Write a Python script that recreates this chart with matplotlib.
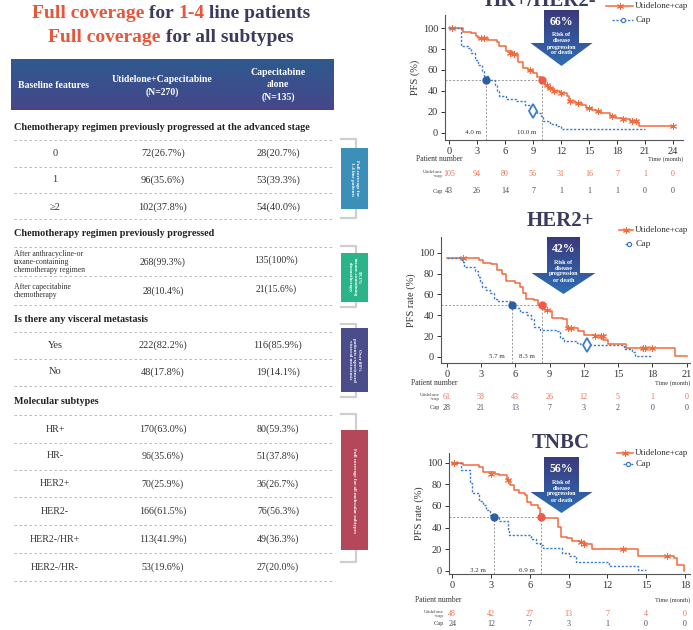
import numpy as np
import matplotlib
matplotlib.use("Agg")
import matplotlib.pyplot as plt
from matplotlib.patches import Polygon, Rectangle
from matplotlib.lines import Line2D
from matplotlib.transforms import blended_transform_factory

plt.rcParams['font.family'] = ['Liberation Serif', 'DejaVu Serif']

ORANGE = '#f26a3c'
BLUE = '#3f7cc6'
NAVY = '#3b3b5e'
RED_T = '#e8553a'

# ---------------- table data ----------------
sec_titles = ["Chemotherapy regimen previously progressed at the advanced stage",
              "Chemotherapy regimen previously progressed",
              "Is there any visceral metastasis",
              "Molecular subtypes"]
line_lab = ["0", "1", "\u22652"]
line_uti = ["72(26.7%)", "96(35.6%)", "102(37.8%)"]
line_cap = ["28(20.7%)", "53(39.3%)", "54(40.0%)"]
prior_lab = ["After anthracycline-or\ntaxane-containing\nchemotherapy regimen",
             "After capecitabine\nchemotherapy"]
prior_uti = ["268(99.3%)", "28(10.4%)"]
prior_cap = ["135(100%)", "21(15.6%)"]
visc_lab = ["Yes", "No"]
visc_uti = ["222(82.2%)", "48(17.8%)"]
visc_cap = ["116(85.9%)", "19(14.1%)"]
sub_lab = ["HR+", "HR-", "HER2+", "HER2-", "HER2-/HR+", "HER2-/HR-"]
sub_uti = ["170(63.0%)", "96(35.6%)", "70(25.9%)", "166(61.5%)", "113(41.9%)", "53(19.6%)"]
sub_cap = ["80(59.3%)", "51(37.8%)", "36(26.7%)", "76(56.3%)", "49(36.3%)", "27(20.0%)"]

# ---------------- KM data ----------------
# HR+/HER2-
hr_uti_t = [0, 1.5, 2.4, 2.9, 3.1, 4.2, 5.1, 5.4, 6.1, 6.7, 7.0, 7.4, 7.9, 8.5, 9.0, 9.4, 9.9, 10.3,
            10.6, 11.1, 11.9, 12.6, 12.9, 13.5, 14.2, 14.7, 15.3, 15.8, 16.3, 17.2, 17.9, 18.5, 19.4,
            20.3, 20.4, 24.0]
hr_uti_s = [100, 96, 95, 92, 90.5, 89, 87, 83, 78, 76, 75, 68, 62, 60, 57, 53, 51, 46,
            43, 40, 38, 35, 30, 29, 27, 24, 22, 21, 19.5, 16, 14, 13, 11,
            9.5, 7, 7]
hr_cap_t = [0, 1.3, 2.0, 2.4, 2.75, 3.1, 3.5, 3.8, 4.2, 4.9, 5.1, 5.4, 6.1, 7.2, 8.1, 8.8, 9.4,
            9.9, 10.1, 10.8, 11.5, 12.0, 21.0]
hr_cap_s = [100, 82.5, 81, 76, 70, 65, 59, 54, 50, 46, 40, 35, 32, 30, 27, 22, 19,
            16, 11, 9, 6.5, 4, 4]
hr_cens_t = [0.3, 3.4, 3.8, 6.5, 7.0, 8.7, 10.5, 10.8, 11.3, 12.0, 13.0, 13.8, 15.0, 16.0, 17.5,
             18.6, 19.6, 20.0, 24.0]
hr_cens_s = [100, 90.5, 90.5, 76, 75, 60, 46, 43, 40, 38, 30, 29, 24, 21, 16, 13, 11, 11, 7]
hr_med = (4.0, 10.0)
hr_diamond = (9.0, 21)
hr_risk_t = [0, 3, 6, 9, 12, 15, 18, 21, 24]
hr_risk_uti = [105, 94, 80, 56, 31, 16, 7, 1, 0]
hr_risk_cap = [43, 26, 14, 7, 1, 1, 1, 0, 0]

# HER2+
her_uti_t = [0, 2.8, 3.2, 3.9, 4.4, 4.8, 5.2, 6.0, 6.4, 6.7, 6.9, 7.6, 8.0, 8.5, 8.9, 9.2, 10.2,
             10.5, 11.5, 12.0, 13.1, 13.7, 14.1, 15.7, 20.0, 21.0]
her_uti_s = [95, 93, 90, 89, 83, 80, 73, 71, 67.5, 61, 56, 55, 50, 45, 44, 37, 36,
             28, 24.5, 21, 20, 16.5, 12, 9, 1, 1]
her_cap_t = [0, 1.0, 1.3, 1.5, 2.5, 2.7, 2.9, 3.1, 3.4, 3.8, 4.1, 4.4, 5.5, 5.7, 6.0, 6.4, 7.0,
             7.4, 7.6, 8.2, 9.6, 9.9, 10.3, 11.4, 11.7, 12.2, 15.5, 16.2, 16.5, 18.0]
her_cap_s = [95, 94.6, 90.8, 86.6, 82, 77, 72, 67.5, 64, 61, 56, 54, 51.6, 48.4, 47, 43, 40,
             36, 29, 26, 24.5, 18, 15, 13.4, 12, 11, 7.6, 4.5, 1.3, 1.3]
her_cens_t = [1.4, 8.4, 8.8, 10.6, 10.9, 13.0, 13.5, 13.7, 17.2, 17.4, 18.0]
her_cens_s = [95, 50, 45, 28, 28, 20, 20, 20, 9, 9, 9]
her_med = (5.7, 8.3)
her_diamond = (12.3, 11)
her_risk_t = [0, 3, 6, 9, 12, 15, 18, 21]
her_risk_uti = [61, 58, 43, 26, 12, 5, 1, 0]
her_risk_cap = [28, 21, 13, 7, 3, 2, 0, 0]

# TNBC
tn_uti_t = [0, 0.85, 2.1, 2.4, 3.3, 3.6, 4.2, 4.5, 4.8, 5.2, 5.6, 5.8, 6.1, 6.6, 6.8, 7.0, 8.2,
            8.4, 8.9, 9.3, 9.9, 10.3, 10.8, 14.4, 17.2, 17.4, 17.9]
tn_uti_s = [100, 98, 95.7, 91.7, 90, 88.6, 84, 79, 75, 72, 70, 64, 61, 57.7, 53, 48.5, 40.7,
            31.5, 30, 28, 27, 25, 19.8, 13.6, 11.4, 5, 0]
tn_cap_t = [0, 0.7, 1.4, 1.55, 2.1, 2.4, 2.6, 2.9, 3.3, 3.6, 4.3, 4.4, 6.1, 6.5, 6.8, 7.0, 8.5,
            9.0, 9.6, 12.1, 14.4, 15.0]
tn_cap_s = [100, 93, 81, 71.6, 65, 61, 56, 51.5, 49.4, 46.3, 39, 33, 29, 26, 23.8, 20.7, 16.7,
            13.6, 8.3, 4.3, 0.6, 0.6]
tn_cens_t = [0.1, 3.0, 4.3, 10.0, 10.2, 13.2, 16.6]
tn_cens_s = [100, 90, 84, 27, 25, 19.8, 13.6]
tn_med = (3.2, 6.9)
tn_risk_t = [0, 3, 6, 9, 12, 15, 18]
tn_risk_uti = [48, 42, 27, 13, 7, 4, 0]
tn_risk_cap = [24, 12, 7, 3, 1, 0, 0]

W, H = 693, 630
fig = plt.figure(figsize=(W / 100, H / 100), dpi=100)
fig.patch.set_facecolor('white')


def px_axes(l, t, r, b, **kw):
    return fig.add_axes([l / W, 1 - b / H, (r - l) / W, (b - t) / H], **kw)


ov = fig.add_axes([0, 0, 1, 1], zorder=5)
ov.set_xlim(0, W)
ov.set_ylim(H, 0)
ov.axis('off')
ov.patch.set_alpha(0)
renderer = fig.canvas.get_renderer()


def multi_text(cx, y, parts, size):
    objs = []
    for s, c in parts:
        objs.append(ov.text(0, y, s, color=c, fontsize=size, fontweight='bold', va='center', ha='left'))
    widths = [o.get_window_extent(renderer).width for o in objs]
    x = cx - sum(widths) / 2
    for o, w in zip(objs, widths):
        o.set_x(x)
        x += w


def gradient(x0, x1, y0, y1, c_top, c_bot, clip=None):
    a = np.array(matplotlib.colors.to_rgb(c_top))
    b = np.array(matplotlib.colors.to_rgb(c_bot))
    f = np.linspace(0, 1, 64)[:, None, None]
    img = a * (1 - f) + b * f
    im = ov.imshow(img, extent=(x0, x1, y1, y0), origin='upper', aspect='auto', zorder=2)
    if clip is not None:
        im.set_clip_path(clip)


# ---------------- title ----------------
multi_text(171, 14, [("Full coverage", RED_T), (" for ", NAVY), ("1-4", RED_T), (" line patients", NAVY)], 14)
multi_text(171, 38, [("Full coverage", RED_T), (" for all subtypes", NAVY)], 14)

# ---------------- table ----------------
gradient(11, 334, 59, 110, '#2e5a8e', '#46468a')
ov.text(54, 85, "Baseline features", color='white', fontsize=7, fontweight='bold', ha='center', va='center')
ov.text(162, 86, "Utidelone+Capecitabine\n(N=270)", color='white', fontsize=7, fontweight='bold',
        ha='center', va='center', linespacing=1.5)
ov.text(278, 85, "Capecitabine\nalone\n(N=135)", color='white', fontsize=7, fontweight='bold',
        ha='center', va='center', linespacing=1.5)

C1, C2, C3 = 55, 163, 278
FS = 7.5


def dash(y):
    ov.plot([14, 334], [y, y], color='#b0b0b0', lw=0.6, ls=(0, (3, 3)), zorder=3)


def section(y, s):
    ov.text(14, y, s, fontsize=7.3, fontweight='bold', color='#222222', va='center', ha='left')


section(127, sec_titles[0])
for y in [140, 167, 193, 219]:
    dash(y)
for y, a, b, c in zip([153, 180, 207], line_lab, line_uti, line_cap):
    ov.text(C1, y, a, fontsize=FS, ha='center', va='center', color='#333333')
    ov.text(C2, y, b, fontsize=FS, ha='center', va='center', color='#333333')
    ov.text(C3, y, c, fontsize=FS, ha='center', va='center', color='#333333')

section(234, sec_titles[1])
for y in [247, 276, 305]:
    dash(y)
for y, a, b, c in zip([262, 291], prior_lab, prior_uti, prior_cap):
    ov.text(14, y, a, fontsize=5.6, ha='left', va='center', color='#333333', linespacing=1.0)
    ov.text(C2, y, b, fontsize=FS - 0.5, ha='center', va='center', color='#333333')
    ov.text(C3 - 2, y - 2, c, fontsize=FS - 0.5, ha='center', va='center', color='#333333')

section(319, sec_titles[2])
for y in [332, 359, 386]:
    dash(y)
for y, a, b, c in zip([345, 372], visc_lab, visc_uti, visc_cap):
    ov.text(C1, y, a, fontsize=FS, ha='center', va='center', color='#333333')
    ov.text(C2, y, b, fontsize=FS, ha='center', va='center', color='#333333')
    ov.text(C3, y, c, fontsize=FS, ha='center', va='center', color='#333333')

section(401, sec_titles[3])
for y in [415, 443, 470, 497, 525, 553, 581]:
    dash(y)
for y, a, b, c in zip([429, 456, 484, 511, 539, 567], sub_lab, sub_uti, sub_cap):
    ov.text(C1, y, a, fontsize=FS - 0.3, ha='center', va='center', color='#333333')
    ov.text(C2, y, b, fontsize=FS - 0.3, ha='center', va='center', color='#333333')
    ov.text(C3, y, c, fontsize=FS - 0.3, ha='center', va='center', color='#333333')

# side labels
side = [(139, 218, 148, 209, '#3b8fb8', "Full coverage for\n1-4 line patients"),
        (246, 307, 253, 302, '#2bb48a', "99.3%\ntaxane-containing\nchemotherapy"),
        (324, 397, 328, 392, '#4a4d8a', "Over 80%\npatients experienced\nvisceral metastasis"),
        (414, 562, 430, 550, '#b5475a', "Full coverage for all molecular subtypes")]
for bt, bb, y0, y1, col, txt in side:
    ov.plot([341, 356, 356, 341], [bt, bt, bb, bb], color='#cfcfcf', lw=1.6, zorder=2)
    ov.add_patch(Rectangle((341, y0), 27, y1 - y0, facecolor=col, edgecolor='none', zorder=3))
    ov.text(354.5, (y0 + y1) / 2, txt, rotation=270, color='white', fontsize=3.6, fontweight='bold',
            ha='center', va='center', linespacing=1.1, zorder=4)


# ---------------- KM plots ----------------
def km(box, xlim, ylim, xt, ut, us, ct, cs, cens_t, cens_s, med, diamond, ylabel):
    ax = px_axes(*box)
    ax.step(ut, us, where='post', color=ORANGE, lw=1.1, zorder=3)
    ax.step(ct, cs, where='post', color=BLUE, lw=1.0, ls=(0, (1.6, 1.2)), zorder=3)
    ax.plot(cens_t, cens_s, ls='none', marker=(6, 2, 0), ms=5, mew=0.7, color=ORANGE, zorder=4)
    ax.plot([xlim[0], med[1]], [50, 50], color='#8a8a8a', lw=0.6, ls=(0, (2.5, 2)), zorder=2)
    for m in med:
        ax.plot([m, m], [ylim[0], 50], color='#8a8a8a', lw=0.6, ls=(0, (2.5, 2)), zorder=2)
    ax.plot(med[0], 50, 'o', color='#2e5da6', ms=5, zorder=5)
    ax.plot(med[1], 50, 'o', color='#ef5b4b', ms=5, zorder=5)
    if diamond is not None:
        ax.plot(*diamond, marker='d', ms=7, mfc='white', mec=BLUE, mew=1.3, zorder=5)
    ax.set_xlim(*xlim)
    ax.set_ylim(*ylim)
    ax.set_xticks(xt)
    ax.set_yticks(range(0, 101, 20))
    for s in ['top', 'right']:
        ax.spines[s].set_visible(False)
    for s in ['left', 'bottom']:
        ax.spines[s].set_color('#555555')
        ax.spines[s].set_linewidth(0.8)
    ax.tick_params(labelsize=7.5, length=3, width=0.7, colors='#333333', pad=2)
    ax.set_ylabel(ylabel, fontsize=7.5, color='#333333', labelpad=2)
    ax.patch.set_alpha(0)
    return ax


def risk(ax, y_lab, y_u, y_c, x_lab, x_row, t, ru, rc):
    tr = blended_transform_factory(ax.transData, ov.transData)
    ov.text(x_lab, y_lab, "Patient number", fontsize=5.5, ha='left', va='center', color='#333333')
    ov.text(ax.get_position().x1 * W, y_lab, "Time (month)", fontsize=4.6, ha='right', va='center',
            color='#333333')
    ov.text(x_row, y_u, "Utidelone\n+cap", fontsize=3.6, ha='right', va='center', color='#444444',
            linespacing=1.0)
    ov.text(x_row, y_c, "Cap", fontsize=4.6, ha='right', va='center', color='#444444')
    for ti, a, b in zip(t, ru, rc):
        ov.text(ti, y_u, str(a), transform=tr, fontsize=5.8, ha='center', va='center', color='#f07050')
        ov.text(ti, y_c, str(b), transform=tr, fontsize=5.8, ha='center', va='center', color='#4a4a6a')


def med_labels(ax, y, items):
    tr = blended_transform_factory(ax.transData, ov.transData)
    for x, s in items:
        ov.text(x, y, s, transform=tr, fontsize=5, ha='center', va='center', color='#333333')


def legend(y1, y2, x0, x1):
    xm = (x0 + x1) / 2
    ov.add_line(Line2D([x0, x1], [y1, y1], color=ORANGE, lw=1.1))
    ov.plot(xm, y1, marker=(6, 2, 0), ms=5, mew=0.7, color=ORANGE)
    ov.text(x1 + 1.5, y1, "Utidelone+cap", fontsize=6.5, va='center', ha='left', color='#333333')
    ov.add_line(Line2D([x0 + 6, x1], [y2, y2], color=BLUE, lw=1.0, ls=(0, (1.6, 1.2))))
    ov.plot(xm + 3, y2, 'o', ms=3, mfc='white', mec=BLUE, mew=0.9)
    ov.text(x1 + 3, y2, "Cap", fontsize=6.8, va='center', ha='left', color='#333333')


def arrow(cx, top, sb, tip, sh, hh, pct):
    pts = [(cx - sh, top), (cx + sh, top), (cx + sh, sb), (cx + hh, sb), (cx, tip), (cx - hh, sb),
           (cx - sh, sb)]
    poly = Polygon(pts, closed=True, facecolor='none', edgecolor='none', transform=ov.transData)
    ov.add_patch(poly)
    gradient(cx - hh, cx + hh, top, tip, '#3a3a7c', '#2f6db4', clip=poly)
    ov.text(cx, top + 12, pct, color='white', fontsize=8.5, fontweight='bold', ha='center', va='center',
            zorder=6)
    ov.text(cx, top + 34, "Risk of\ndisease\nprogression\nor death", color='white', fontsize=4.3,
            fontweight='bold', ha='center', va='center', linespacing=1.25, zorder=6)


# HR+/HER2-
ax1 = km((445, 15, 683, 140), (-0.43, 25.07), (-6.7, 112.4), hr_risk_t, hr_uti_t, hr_uti_s,
         hr_cap_t, hr_cap_s, hr_cens_t, hr_cens_s, hr_med, hr_diamond, "PFS (%)")
ov.text(540, 6, "HR+/HER2-", fontsize=15, fontweight='bold', color=NAVY, ha='center', va='baseline')
legend(6, 20, 606, 633)
arrow(561.5, 10, 43, 66, 17.5, 31, "66%")
med_labels(ax1, 133, [(2.6, "4.0 m"), (8.3, "10.0 m")])
risk(ax1, 159, 174, 191, 416, 443, hr_risk_t, hr_risk_uti, hr_risk_cap)

# HER2+
ax2 = km((441, 237, 690, 363), (-0.5, 21.3), (-5.8, 115), her_risk_t, her_uti_t, her_uti_s,
         her_cap_t, her_cap_s, her_cens_t, her_cens_s, her_med, her_diamond, "PFS rate (%)")
ov.text(560, 226, "HER2+", fontsize=15, fontweight='bold', color=NAVY, ha='center', va='baseline')
legend(230, 244, 619, 633)
arrow(563.5, 237, 273, 294, 16.5, 32, "42%")
med_labels(ax2, 357, [(4.4, "5.7 m"), (7.0, "8.3 m")])
risk(ax2, 383, 397, 408, 411, 440, her_risk_t, her_risk_uti, her_risk_cap)

# TNBC
ax3 = km((449, 453, 690, 574), (-0.25, 18.4), (-3, 109), tn_risk_t, tn_uti_t, tn_uti_s,
         tn_cap_t, tn_cap_s, tn_cens_t, tn_cens_s, tn_med, None, "PFS rate (%)")
ov.text(561, 448, "TNBC", fontsize=15, fontweight='bold', color=NAVY, ha='center', va='baseline')
legend(453, 464, 617, 633)
arrow(561.5, 457, 492, 513, 17.5, 31, "56%")
med_labels(ax3, 571, [(2.0, "3.2 m"), (5.8, "6.9 m")])
risk(ax3, 600, 614, 624, 415, 444, tn_risk_t, tn_risk_uti, tn_risk_cap)

ov.set_xlim(0, W)
ov.set_ylim(H, 0)

fig.savefig("out.png", dpi=100)
